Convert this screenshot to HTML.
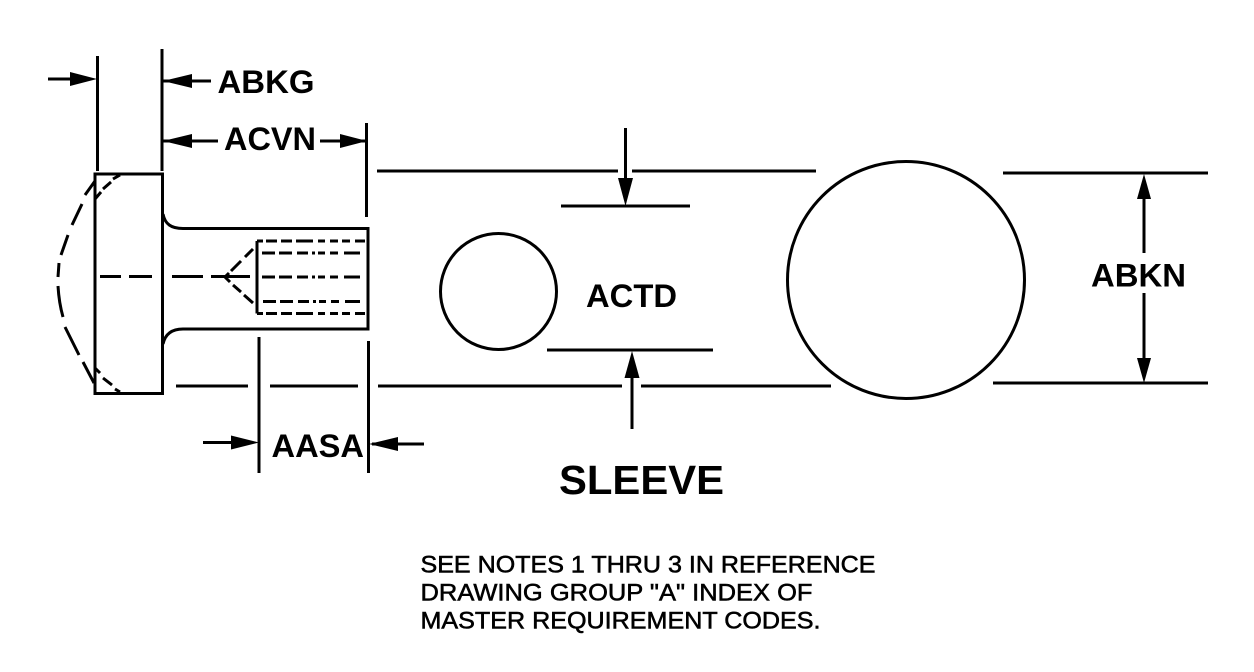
<!DOCTYPE html>
<html><head><meta charset="utf-8"><style>
html,body{margin:0;padding:0;background:#fff}
svg{display:block}
text{font-family:"Liberation Sans",sans-serif;fill:#000}
.b{font-weight:bold;font-size:32px}
.n{font-size:24px;font-weight:normal;stroke:#000;stroke-width:.55px}
</style></head><body>
<svg width="1254" height="672" viewBox="0 0 1254 672" xmlns="http://www.w3.org/2000/svg">
<g fill="none" stroke="#000" stroke-width="3">
<!-- extension lines -->
<path d="M97.500 56V171M162 49V171M366.500 123V217M259 337V473M368.500 341V473"/>
<!-- head -->
<rect x="95" y="174" width="67.500" height="219.500"/>
<path d="M163 214C165 224 171 228.500 183 228.500H368V329H183C171 329 165 335 163 344"/>
<!-- inner bore -->
<path d="M257 241V313.500"/>
<path d="M257 241H365M257 313.500H365" stroke-dasharray="6 3 11 4 11 4 17 5 7 5 8 4 8 5 10 100"/>
<path d="M262 253H360M262 277H360M263 301.500H360" stroke-dasharray="13 4 13 5 11 4 3 3 7 5 8 6 16 100"/>
<path d="M100 276.500H121M129 276.500H152M172 276.500H203M211 276.500H250"/>
<path d="M253 249L245 257M241 261L231 271M229 273L225 277L230 282M233 285L241 292M244 295L253 303"/>
<!-- dome -->
<path d="M95 181L85 195M82 204L72 225M68 235L61 255M59 263L58 277M58 286Q59 303 63 317M65 327L79 355M83 362L94 383"/>
<path d="M120 175L113 179M111 182L103 189M101 192L95 199M95 368L100 373M103 378L112 385M115 389L120 392"/>
<!-- dimension lines -->
<path d="M48 79H80M163 81H211M163 141H218M320 141H367M203 442.500H240M372 444H424"/>
<path d="M377 171H618M632 171H816M561 206H690M547 350H713M176 386H248M270 386H358M378 386H622M641 386H831M1003 173H1208M993 383H1208"/>
<path d="M625.500 128V185M632 372V429M1144 190V253M1144 293V365"/>
<!-- circles -->
<circle cx="498.500" cy="291.500" r="58"/>
<circle cx="906" cy="280" r="118.500"/>
</g>
<g fill="#000">
<path d="M97 79L70 72V86Z"/>
<path d="M163 81L192 74V88Z"/>
<path d="M163 141L192 134V148Z"/>
<path d="M367 141L340 134V148Z"/>
<path d="M259 442.500L231 435.500V449.500Z"/>
<path d="M369 444L398 437V451Z"/>
<path d="M625.500 206L618 178H633Z"/>
<path d="M632 351L624.500 378H639.500Z"/>
<path d="M1144 174L1137 199H1151Z"/>
<path d="M1144 383L1137 358H1151Z"/>
</g>
<text class="b" x="217.500" y="93" textLength="97" lengthAdjust="spacingAndGlyphs">ABKG</text>
<text class="b" x="224" y="150" textLength="92" lengthAdjust="spacingAndGlyphs">ACVN</text>
<text class="b" x="271.500" y="457" textLength="92.500" lengthAdjust="spacingAndGlyphs">AASA</text>
<text class="b" x="586" y="307" textLength="91" lengthAdjust="spacingAndGlyphs">ACTD</text>
<text class="b" x="1091" y="286.500" textLength="95" lengthAdjust="spacingAndGlyphs">ABKN</text>
<text x="559" y="494" textLength="165" lengthAdjust="spacingAndGlyphs" style="font-weight:bold;font-size:41px">SLEEVE</text>
<text class="n" x="420.500" y="572.500" textLength="455" lengthAdjust="spacingAndGlyphs">SEE NOTES 1 THRU 3 IN REFERENCE</text>
<text class="n" x="420.500" y="600.500" textLength="392" lengthAdjust="spacingAndGlyphs">DRAWING GROUP "A" INDEX OF</text>
<text class="n" x="420.500" y="628.500" textLength="400" lengthAdjust="spacingAndGlyphs">MASTER REQUIREMENT CODES.</text>
</svg>
</body></html>
